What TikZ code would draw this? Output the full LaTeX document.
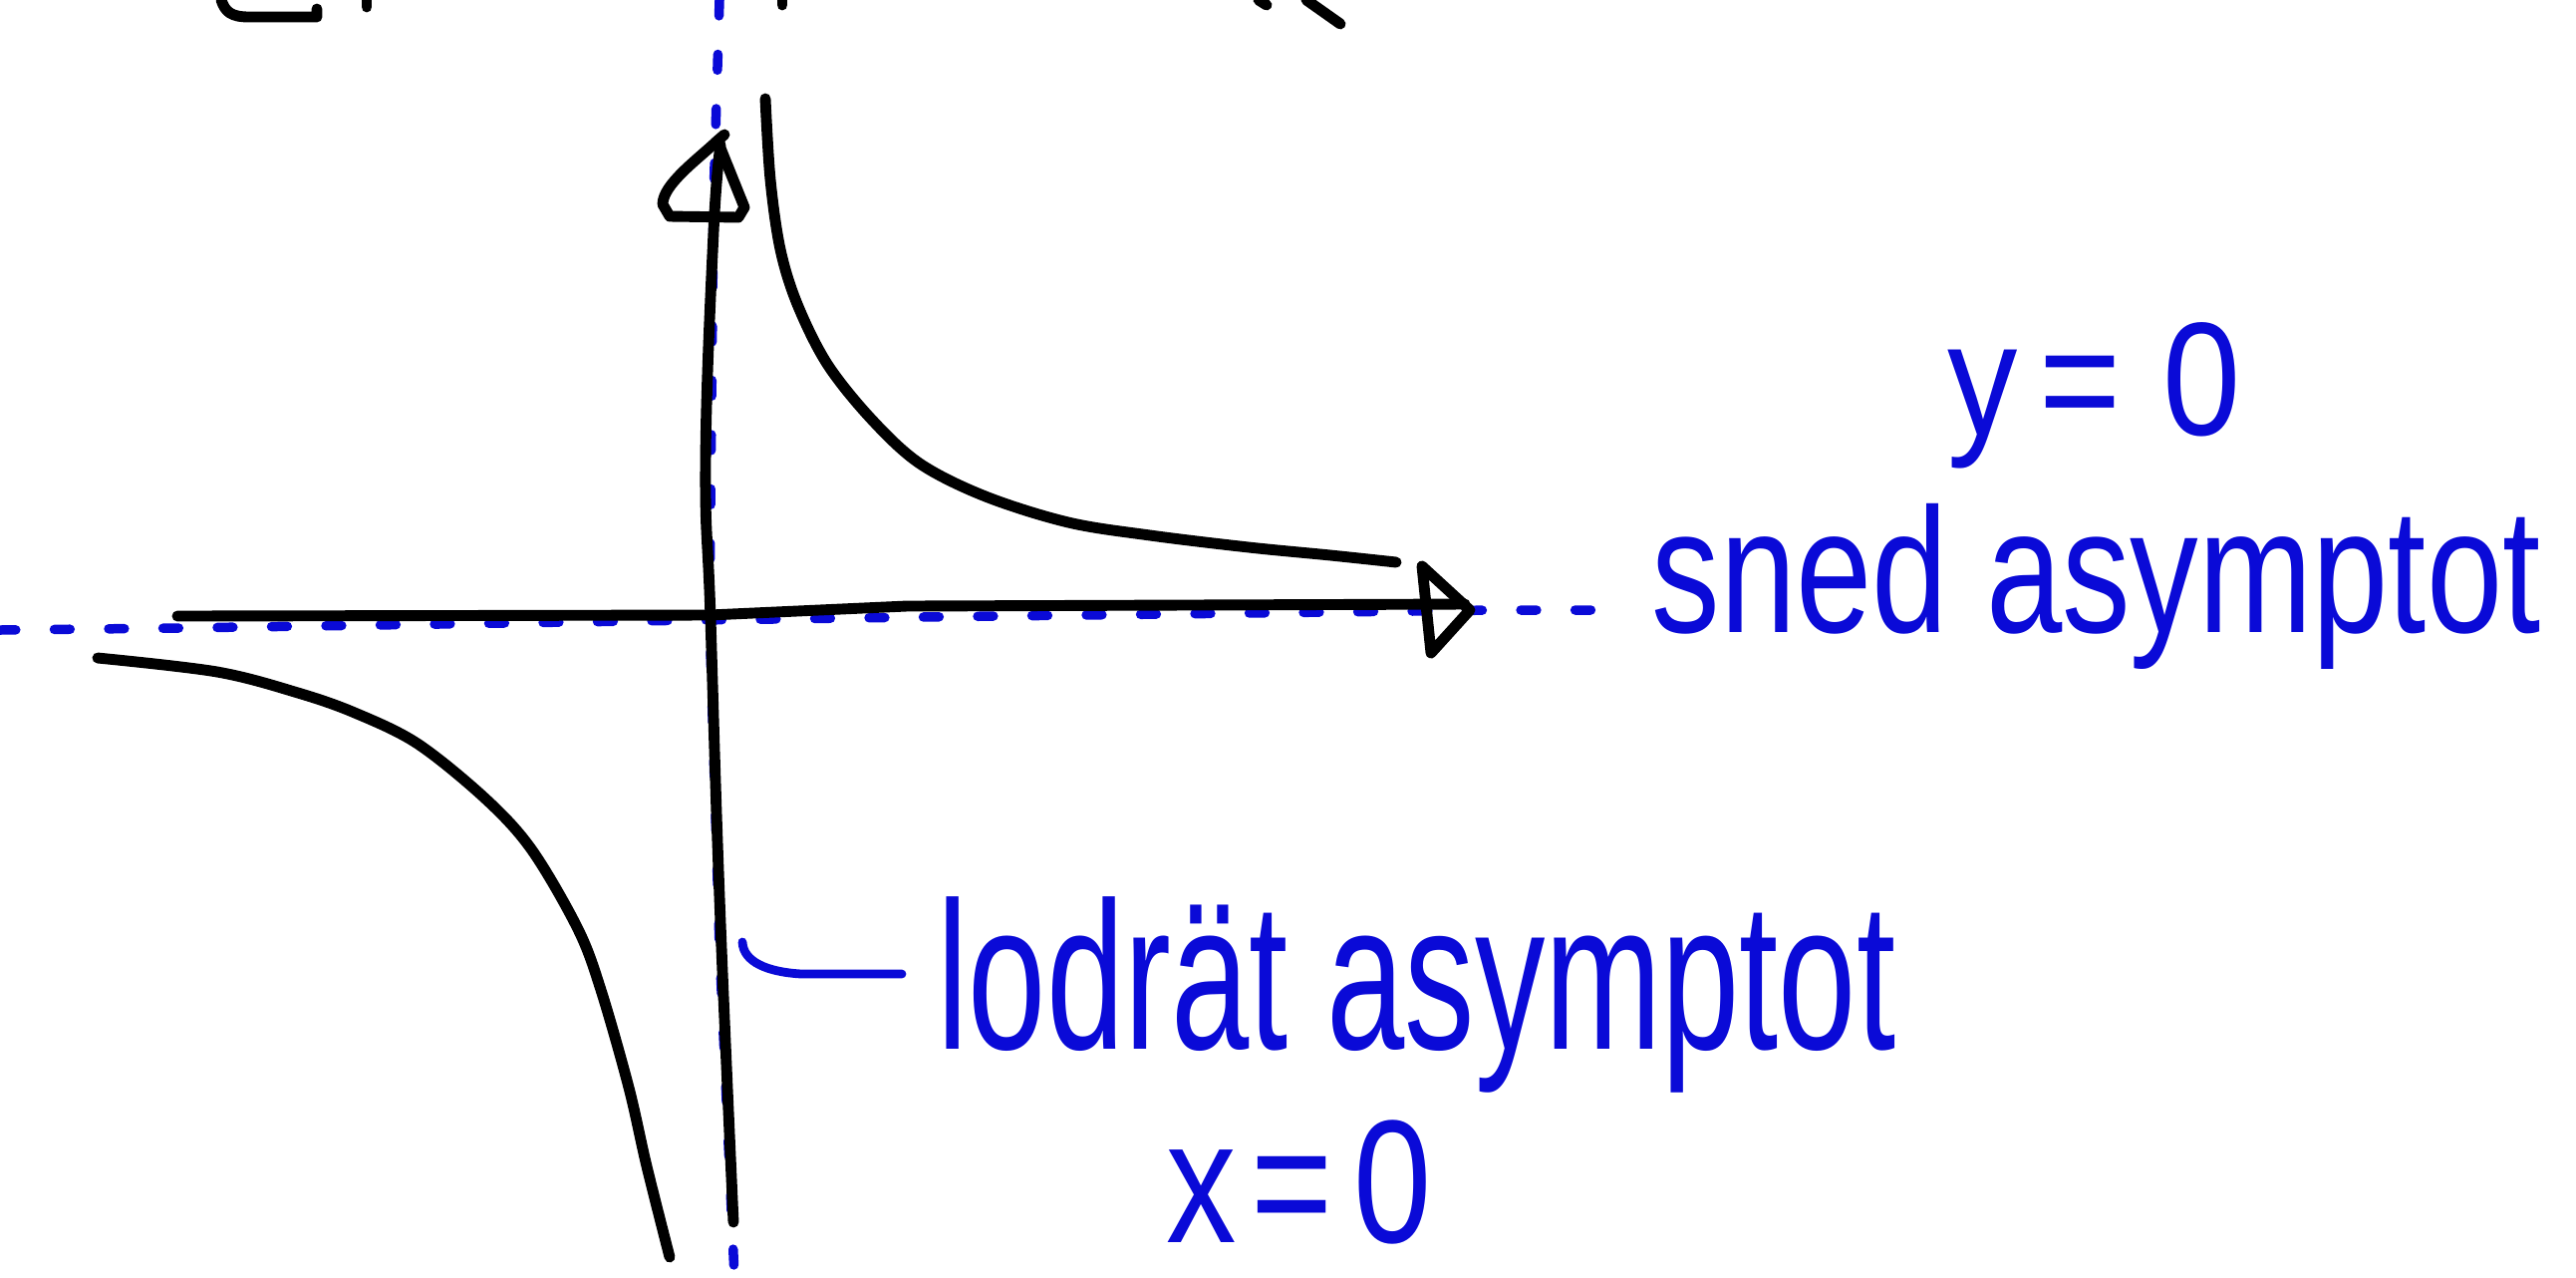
\documentclass[tikz,border=0pt]{standalone}
\usepackage{fontspec}
\setmainfont{Liberation Sans}
\usepackage{graphicx}
\definecolor{pen}{RGB}{10,10,215}
\begin{document}
\begin{tikzpicture}[x=0.01cm,y=-0.01cm,
  blk/.style={line width=3.1pt, line cap=round, line join=round, black},
  asym/.style={line width=2.7pt, pen, dash pattern=on 4.5pt off 11pt, line cap=round},
  penline/.style={line width=2.5pt, pen, line cap=round, line join=round},
  lbl/.style={text=pen, font=\fontsize{40}{48}\selectfont, inner sep=0pt},
  ]
\useasboundingbox (0,0) rectangle (2585,1281);
\clip (0,0) rectangle (2585,1281);

% dotted asymptotes
\draw[asym] (0,632) -- (180,630) -- (700,622) -- (1000,618) -- (1500,612) -- (1625,612);
\draw[asym] (722,0) -- (716,200) -- (712,620) -- (722,950) -- (737,1281);

% axes
\draw[blk] (178,618) -- (712,617) -- (910,608) -- (1470,606);
\draw[blk] (1427,568) -- (1475,612) -- (1436,655) -- cycle;
\draw[blk] plot[smooth, tension=0.7] coordinates {(723,145) (716,233) (708,463) (713,620) (722,900) (736,1226)};
\draw[blk] (727,135) -- (720,141) -- (747,208) -- (741,218) -- (672,217) -- (665,205)
  .. controls (665,185) and (700,160) .. (720,141);

% hyperbola branches
\draw[blk] plot[smooth, tension=0.55] coordinates {(768,99) (773,180) (783,250) (800,305) (830,365) (874,420) (923,465) (989,498) (1072,524) (1154,537) (1253,549) (1335,557) (1401,564)};
\draw[blk] plot[smooth, tension=0.55] coordinates {(98,660) (218,674) (299,695) (356,715) (419,746) (488,802) (534,853) (580,932) (603,993) (631,1091) (649,1170) (672,1261)};

% fragments cut at the top edge
\draw[blk] (222,0) .. controls (226,12) and (232,17) .. (250,17) -- (318,17) -- (318,9);
\draw[blk] (368,0) -- (368,7);
\draw[blk] (785,0) -- (785,5);
\draw[blk] (1263,0) -- (1271,5);
\draw[blk] (1311,0) -- (1345,24);

% labels
\node[lbl, anchor=base west] (lodr) at (940,1052) {\scalebox{1}[1.5]{lodrät asymptot}};
\node[lbl, anchor=base west] (xeq) at (1170,1246) {\scalebox{1}[1.25]{x\hspace{0.1em}=\hspace{0.15em}0}};
\node[lbl, anchor=base west, font=\fontsize{39}{46}\selectfont] (sned) at (1657,634) {\scalebox{1}[1.3]{sned asymptot}};
\node[lbl, anchor=base west] (yeq) at (1954,436) {\scalebox{1}[1.15]{y\hspace{0.15em}=\hspace{0.3em}0}};

% pointer from the vertical asymptote to its label
\coordinate (vpt) at (745,945);
\coordinate (lend) at (905,977);
\draw[penline] (vpt) .. controls (746,965) and (770,975) .. (804,977) -- (lend);
\end{tikzpicture}
\end{document}
